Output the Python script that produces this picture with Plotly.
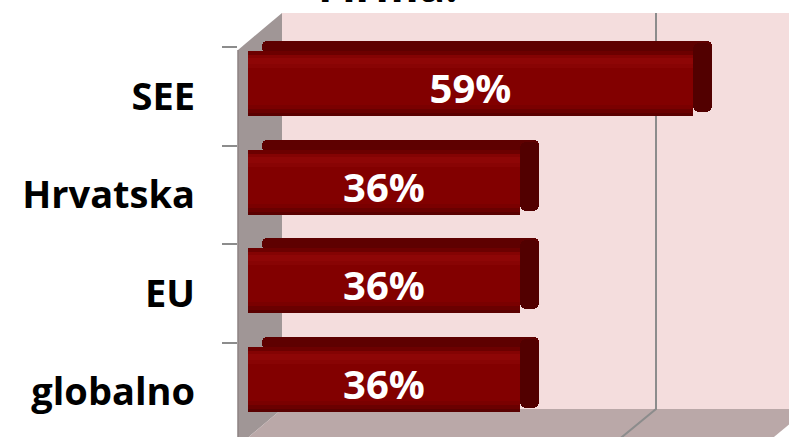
import plotly.graph_objects as go

# ---- data ----
categories = ["SEE", "Hrvatska", "EU", "globalno"]
values = [59, 36, 36, 36]
value_labels = ["59%", "36%", "36%", "36%"]
title_text = "Firma:"

# ---- style / geometry ----
W, H = 789, 437
ML, MR, MT, MB = 238, 0, 13, 0
PLOT_W = W - ML - MR
PLOT_H = H - MT - MB
FONT = "Open Sans"
DEPTH = 2.5          # 3D cap depth in value units
TOP_START = 1.9      # where the top face begins (value units)
BAND_PX = 98.6


def PX(px):
    return (px - ML) / PLOT_W


def PY(py):
    return (H - MB - py) / PLOT_H


def OFF(p0):
    # pixel position relative to the first band centre -> bar offset
    return (p0 - (47 + BAND_PX / 2)) / BAND_PX


def WID(p0, p1):
    return (p1 - p0) / BAND_PX


n = len(categories)
fig = go.Figure()


def layer(base, length, p0, p1, color, radius=0, text=None):
    fig.add_trace(go.Bar(
        y=categories, x=length, base=base, orientation="h",
        offset=OFF(p0), width=WID(p0, p1),
        marker=dict(color=color, line=dict(width=0), cornerradius=radius),
        text=text, textposition="inside" if text else None,
        insidetextanchor="middle", constraintext="none", textangle=0,
        textfont=dict(family=FONT, size=40, color="white", weight="bold"),
        hoverinfo="skip", showlegend=False,
    ))


front_base = [0] * n
# top face
layer([TOP_START] * n, [v + DEPTH - TOP_START for v in values], 41, 53, "#5e0000", 5)
# right cap
layer(values, [DEPTH] * n, 43, 112, "#520000", 6)
# front face and its shading bands
layer(front_base, values, 51, 116, "#820000")
layer(front_base, values, 51, 55, "#6c0000")
layer(front_base, values, 55, 58, "#840303")
layer(front_base, values, 58, 64, "#8e0606")
layer(front_base, values, 64, 68, "#880404")
layer(front_base, values, 105, 109, "#7a0000")
layer(front_base, values, 109, 113, "#6a0000")
layer(front_base, values, 113, 116, "#5a0000")
# value labels (transparent carrier)
layer(front_base, values, 59, 115, "rgba(0,0,0,0)", 0, value_labels)

# ---- 3D frame decoration ----
wall = "rgb(244,221,221)"
side = "rgb(160,150,150)"
floor = "rgb(186,168,168)"
grid = "rgb(140,140,140)"
shapes = [
    dict(type="rect", xref="paper", yref="paper",
         x0=PX(282), x1=PX(810), y0=PY(409), y1=PY(13),
         fillcolor=wall, line=dict(width=0), layer="below"),
    dict(type="path", xref="paper", yref="paper",
         path=f"M {PX(238)},{PY(50)} L {PX(282)},{PY(13)} L {PX(282)},{PY(409)} L {PX(238)},{PY(446)} Z",
         fillcolor=side, line=dict(width=0), layer="below"),
    dict(type="path", xref="paper", yref="paper",
         path=f"M {PX(282)},{PY(409)} L {PX(808)},{PY(409)} L {PX(763)},{PY(446)} L {PX(238)},{PY(446)} Z",
         fillcolor=floor, line=dict(width=0), layer="below"),
    dict(type="line", xref="paper", yref="paper",
         x0=PX(238), x1=PX(238), y0=PY(50), y1=PY(446),
         line=dict(color="rgb(140,130,130)", width=1.5), layer="below"),
    dict(type="path", xref="paper", yref="paper",
         path=f"M {PX(656)},{PY(13)} L {PX(656)},{PY(409)} L {PX(611)},{PY(446)}",
         line=dict(color=grid, width=2), layer="below"),
]

y_top = -0.5 - (47 - MT) / BAND_PX
y_bot = y_top + PLOT_H / BAND_PX
unit = 7.55
x_left = -(248 - ML) / unit
x_right = x_left + PLOT_W / unit

fig.update_layout(
    width=W, height=H,
    margin=dict(l=ML, r=MR, t=MT, b=MB, pad=0),
    paper_bgcolor="white", plot_bgcolor="rgba(0,0,0,0)",
    barmode="overlay", bargap=0,
    shapes=shapes,
    xaxis=dict(range=[x_left, x_right], visible=False, fixedrange=True),
    yaxis=dict(type="category", categoryorder="array", categoryarray=categories,
               range=[y_bot, y_top], tickson="boundaries",
               ticks="outside", ticklen=15, tickwidth=2, tickcolor="rgb(140,140,140)",
               showline=False, showgrid=False, zeroline=False, fixedrange=True,
               ticklabelstandoff=42,
               tickfont=dict(family=FONT, size=38, color="black", weight="bold")),
    annotations=[dict(text=title_text, xref="paper", yref="paper",
                      x=PX(388), y=PY(16.5), xanchor="center", yanchor="bottom",
                      showarrow=False,
                      font=dict(family=FONT, size=44, color="black", weight="bold"))],
)

fig.write_html(
    "out.html",
    config={"displayModeBar": False},
    post_script="document.body.style.margin='0';document.body.style.padding='0';",
)
